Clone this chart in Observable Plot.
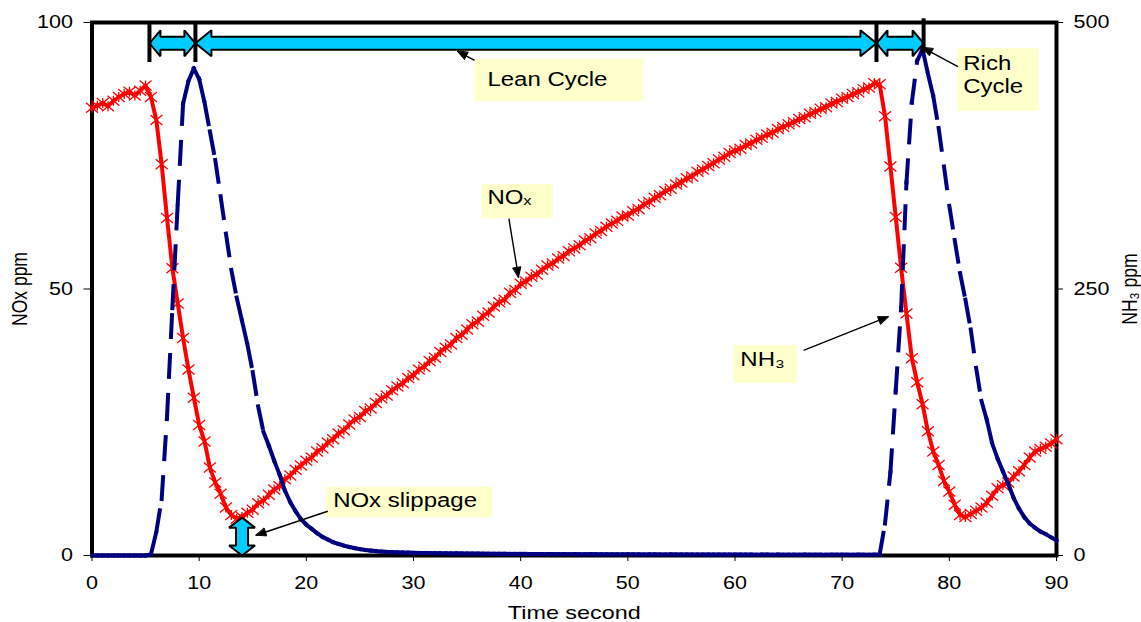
<!DOCTYPE html>
<html>
<head>
<meta charset="utf-8">
<script src="https://cdn.jsdelivr.net/npm/d3@7"></script>
<script src="https://cdn.jsdelivr.net/npm/@observablehq/plot@0.6"></script>
<style>
html, body { margin: 0; padding: 0; background: #fff; overflow: hidden; }
#chart { width: 1141px; height: 622px; }
</style>
</head>
<body>
<div id="chart"></div>
<script>
// ---------------- data ----------------
const sampleStep = 0.5; // seconds between samples (t = 0 … 90 s)

// NOx concentration (ppm, left axis)
const noxPpm = [
  84.0,84.4,84.9,84.3,85.3,86.0,86.6,87.0,86.3,87.2,88.2,86.0,81.7,73.4,63.3,53.9,47.3,40.8,34.9,29.6,
  24.5,21.4,16.5,13.7,11.6,9.0,7.6,6.9,7.2,
  8.0,8.6,9.8,10.3,11.4,12.4,13.0,14.3,15.0,16.1,16.9,17.8,
  18.4,19.5,20.1,21.2,21.8,22.9,23.5,24.6,25.5,26.0,27.1,27.6,28.6,29.5,30.0,31.0,31.7,32.3,33.3,33.8,
  34.9,35.4,36.5,37.1,38.2,39.0,39.6,40.8,41.4,42.4,43.4,43.9,45.0,45.6,46.7,47.5,48.0,49.3,49.8,51.0,
  51.4,52.3,52.7,53.6,54.4,54.8,55.7,56.2,57.1,57.6,58.2,59.1,59.5,60.4,60.9,61.7,62.3,62.8,63.6,63.8,
  64.6,65.0,65.9,66.3,67.1,67.6,68.4,68.8,69.6,70.0,70.8,71.1,72.0,72.4,73.1,73.6,74.3,74.8,75.5,76.0,
  76.3,77.0,77.3,78.0,78.4,79.0,79.3,80.0,80.4,80.9,81.3,81.9,82.2,82.9,83.2,83.8,84.1,84.8,85.1,85.7,
  86.0,86.6,86.9,87.5,87.8,88.6,
  88.4,82.4,73.0,63.5,54.0,45.4,37.0,32.5,28.4,23.3,19.5,17.0,14.0,12.0,9.5,7.6,7.2,7.8,8.4,9.0,
  9.9,11.2,12.6,13.2,13.7,14.8,15.8,17.0,18.4,19.5,20.0,20.4,21.0,21.8
];

// NH3 concentration (ppm, right axis)
const nh3Ppm = [
  0,0,0,0,0,0,0,0,0,0,0,
  1,22,53,130,232,330,424,445,457,447,425,398,371,337,302,268,242,220,198,172,140,116,103,89,76,61,50,41.5,34,29,
  25,21,17.5,15,12.5,10.8,9.3,8,6.9,6,5.2,4.6,4.1,3.7,3.4,3.2,3.0,2.9,2.7,2.5,
  2.4,2.4,2.3,2.2,2.2,2.1,2.0,2.0,1.9,1.9,1.8,1.8,1.7,1.7,1.6,1.6,1.6,1.5,1.5,1.5,
  1.5,1.4,1.4,1.4,1.3,1.4,1.3,1.3,1.2,1.3,1.2,1.2,1.3,1.2,1.2,1.1,1.2,1.1,1.1,1.2,
  1.1,1.1,1.0,1.1,1.1,1.0,1.0,1.1,1.0,1.0,1.0,1.0,0.9,1.0,1.0,0.9,1.0,0.9,0.9,1.0,
  0.9,0.9,0.9,0.8,0.9,0.9,0.8,0.9,0.8,0.8,0.8,0.8,0.9,0.8,0.8,0.8,0.7,0.8,0.8,0.8,
  0.8,0.7,0.8,0.8,0.7,0.8,
  1,30,78,155,232,350,425,464,475,452,431,401,365,328,296,265,240,212,176,145,
  127,105,91,79,67,54,44,36,30,26,22.5,20,17,14
];

const xTicks = [0, 10, 20, 30, 40, 50, 60, 70, 80, 90];
const noxTicks = [0, 50, 100];
const nh3Ticks = [0, 250, 500];
const noxMax = 100;
const nh3Max = 500;

// cycle boundaries (s): rich | lean | rich
const cycleBounds = [5.36, 9.65, 73.2, 77.6];
const cycleArrowLevel = 96.1;      // NOx ppm level of the block arrows
const slippageTime = 14.0;         // NOx slippage marker (s)
const slippageValue = 7.1;         // ppm

// text callouts (positions in data units: seconds, NOx ppm)
const calloutBoxes = [
  {x1: 35.8, x2: 51.5, y1: 85.2, y2: 93.1},
  {x1: 80.8, x2: 88.4, y1: 83.3, y2: 95.1},
  {x1: 36.4, x2: 43.1, y1: 63.2, y2: 69.6},
  {x1: 59.9, x2: 65.8, y1: 32.3, y2: 39.4},
  {x1: 21.9, x2: 37.4, y1: 7.1, y2: 12.8}
];
const calloutTexts = [
  {x: 36.9, y: 89.2, text: "Lean Cycle", anchor: "middle"},
  {x: 81.3, y: 94.2, text: "Rich\nCycle", anchor: "top"},
  {x: 36.9, y: 67.2, text: "NOₓ", anchor: "middle"},
  {x: 60.5, y: 36.8, text: "NH₃", anchor: "middle"},
  {x: 22.5, y: 10.3, text: "NOx slippage", anchor: "middle"}
];
const pointers = [
  {x1: 35.7, y1: 92.9, x2: 34.1, y2: 94.6},
  {x1: 80.8, y1: 91.7, x2: 77.5, y2: 95.3},
  {x1: 38.9, y1: 63.2, x2: 39.8, y2: 52.2},
  {x1: 66.4, y1: 38.5, x2: 74.3, y2: 44.8},
  {x1: 22.0, y1: 8.3, x2: 15.3, y2: 3.8}
];

// ---------------- layout ----------------
const W = 1141, H = 622;
const mL = 91.5, mR = 85, mT = 22, mB = 67;
const xDomain = [0, 90], yDomain = [0, noxMax];
const kx = (W - mL - mR) / (xDomain[1] - xDomain[0]);
const ky = (H - mT - mB) / (yDomain[1] - yDomain[0]);
const pxT = (d) => d / kx;
const pxV = (d) => d / ky;
const nh3ToY = noxMax / nh3Max;

const nox = noxPpm.map((v, i) => ({t: i * sampleStep, v}));
const nh3Segs = [];
for (let i = 0; i < nh3Ppm.length - 1; ++i) {
  nh3Segs.push({t1: i * sampleStep, v1: nh3Ppm[i] * nh3ToY, t2: (i + 1) * sampleStep, v2: nh3Ppm[i + 1] * nh3ToY});
}

// block arrows (cyan, black outline)
function hArrow(id, a, b, yc, hl, hs, hh) {
  const L = pxT(hl), S = pxV(hs), Hh = pxV(hh);
  return [[a,yc],[a+L,yc+Hh],[a+L,yc+S],[b-L,yc+S],[b-L,yc+Hh],[b,yc],[b-L,yc-Hh],[b-L,yc-S],[a+L,yc-S],[a+L,yc-Hh]]
    .map(([x, y]) => ({id, x, y}));
}
function vArrow(id, xc, a, b, hl, hs, hh) {
  const L = pxV(hl), S = pxT(hs), Hh = pxT(hh);
  return [[xc,a],[xc+Hh,a+L],[xc+S,a+L],[xc+S,b-L],[xc+Hh,b-L],[xc,b],[xc-Hh,b-L],[xc-S,b-L],[xc-S,a+L],[xc-Hh,a+L]]
    .map(([x, y]) => ({id, x, y}));
}
const blockArrows = [
  ...hArrow("r1", cycleBounds[0], cycleBounds[1], cycleArrowLevel, 11, 6.5, 13),
  ...hArrow("lean", cycleBounds[1], cycleBounds[2], cycleArrowLevel, 16, 6.5, 13),
  ...hArrow("r2", cycleBounds[2], cycleBounds[3], cycleArrowLevel, 11, 6.5, 13),
  ...vArrow("slip", slippageTime, 0, slippageValue, 10, 6, 13)
];
const boundBars = cycleBounds.map((t, i) => ({t, y1: i === 3 ? 94.2 : 92.5, y2: i === 3 ? 100.7 : 100}));

// filled heads for callout pointers
const pointerHeads = [];
pointers.forEach((p, k) => {
  const dx = (p.x2 - p.x1) * kx, dy = (p.y2 - p.y1) * ky;
  const n = Math.hypot(dx, dy), ux = dx / n, uy = dy / n;
  const len = 10, half = 4;
  const bx = -len * ux, by = -len * uy;
  const pts = [[0, 0], [bx - half * uy, by + half * ux], [bx + half * uy, by - half * ux]];
  pts.forEach(([ox, oy]) => pointerHeads.push({id: k, x: p.x2 + pxT(ox), y: p.y2 + pxV(oy)}));
});

// custom Excel-like star marker
const starSymbol = {
  draw(ctx, size) {
    const a = Math.sqrt(size / Math.PI), w = a * 1.2;
    ctx.moveTo(-w, -a); ctx.lineTo(w, a);
    ctx.moveTo(-w, a); ctx.lineTo(w, -a);
    ctx.moveTo(0, -a); ctx.lineTo(0, a);
  }
};

const font = "'Liberation Sans', Arial, sans-serif";

const chart = Plot.plot({
  width: W, height: H,
  marginLeft: mL, marginRight: mR, marginTop: mT, marginBottom: mB,
  style: {fontFamily: font, fontSize: "17.5px", color: "black", background: "white"},
  x: {domain: xDomain},
  y: {domain: yDomain},
  marks: [
    Plot.frame({stroke: "black", strokeWidth: 4}),
    // callout boxes
    Plot.rect(calloutBoxes, {x1: "x1", x2: "x2", y1: "y1", y2: "y2", fill: "#FFFFCC"}),
    // NOx
    Plot.line(nox, {x: "t", y: "v", stroke: "#FF0000", strokeWidth: 4}),
    Plot.dot(nox, {x: "t", y: "v", symbol: starSymbol, r: 5, stroke: "#FF0000", strokeWidth: 1.3, fill: "none"}),
    // NH3 (per-segment dashes)
    Plot.link(nh3Segs, {x1: "t1", y1: "v1", x2: "t2", y2: "v2", stroke: "#000080", strokeWidth: 4,
      strokeDasharray: "22,18", strokeLinecap: "square"}),
    // callout texts and pointers
    Plot.text(calloutTexts.filter(d => d.anchor === "middle"), {x: "x", y: "y", text: "text", textAnchor: "start", lineAnchor: "middle", fontSize: 19.5, fill: "black"}),
    Plot.text(calloutTexts.filter(d => d.anchor === "top"), {x: "x", y: "y", text: "text", textAnchor: "start", lineAnchor: "top", lineHeight: 1.2, fontSize: 19.5, fill: "black"}),
    Plot.link(pointers, {x1: "x1", y1: "y1", x2: "x2", y2: "y2", stroke: "black", strokeWidth: 1.4}),
    Plot.line(pointerHeads, {x: "x", y: "y", z: "id", fill: "black", stroke: "black", strokeWidth: 1, curve: "linear-closed"}),
    // cycle markers
    Plot.line(blockArrows, {x: "x", y: "y", z: "id", fill: "#00CCFF", stroke: "black", strokeWidth: 2, curve: "linear-closed", strokeLinejoin: "miter"}),
    Plot.ruleX(boundBars, {x: "t", y1: "y1", y2: "y2", stroke: "black", strokeWidth: 4}),
    // axes
    Plot.axisX({ticks: xTicks, tickSize: 6, tickPadding: 15, label: null, fontSize: 17.5}),
    Plot.axisY({anchor: "left", ticks: noxTicks, tickSize: 8, tickPadding: 11, label: null, fontSize: 17.5}),
    Plot.axisY({anchor: "right", ticks: nh3Ticks.map(d => d * nh3ToY), tickFormat: d => String(Math.round(d / nh3ToY)),
      tickSize: 6, tickPadding: 11, label: null, fontSize: 17.5}),
    Plot.text(["Time second"], {frameAnchor: "bottom", text: d => d, dy: 50, textAnchor: "middle", lineAnchor: "top", fontSize: 19}),
    Plot.text(["NOx ppm"], {frameAnchor: "left", text: d => d, dx: -72, rotate: -90, textAnchor: "middle", lineAnchor: "middle", fontSize: 17.5}),
    Plot.text(["NH₃ ppm"], {frameAnchor: "right", text: d => d, dx: 74, rotate: -90, textAnchor: "middle", lineAnchor: "middle", fontSize: 17.5})
  ]
});

// the reference is horizontally stretched: widen glyphs around their anchor
const SX = 1.23;
chart.querySelectorAll("text").forEach((t) => {
  const tr = t.getAttribute("transform") || "";
  const g = document.createElementNS("http://www.w3.org/2000/svg", "g");
  if (tr) g.setAttribute("transform", tr);
  t.parentNode.insertBefore(g, t);
  g.appendChild(t);
  t.setAttribute("transform", /rotate/.test(tr) ? `scale(1,${SX})` : `scale(${SX},1)`);
});

document.getElementById("chart").appendChild(chart);
</script>
</body>
</html>
